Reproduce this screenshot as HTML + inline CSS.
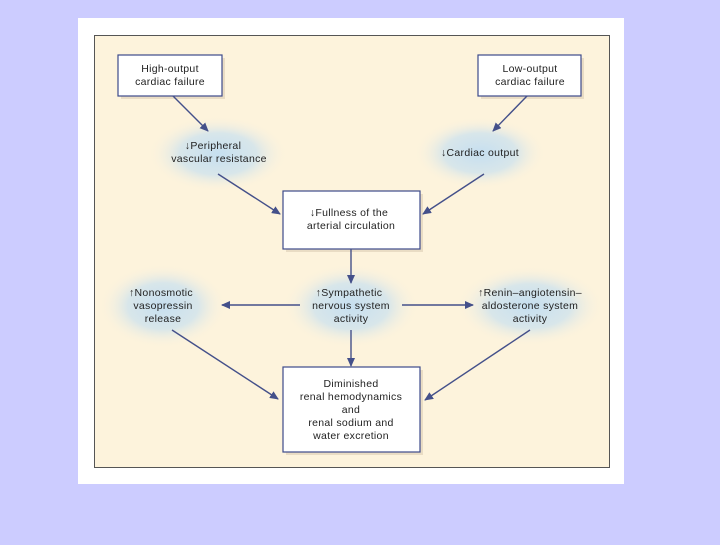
<!DOCTYPE html>
<html><head><style>
body{margin:0;background:#ccccff;width:720px;height:540px;overflow:hidden}
text{font-family:"Liberation Sans",sans-serif;font-size:10.5px;letter-spacing:0.3px;fill:#222;text-anchor:middle}
.b{font-weight:bold}
</style></head><body>
<svg width="720" height="540" xmlns="http://www.w3.org/2000/svg">
<defs>
<radialGradient id="g"><stop offset="0" stop-color="#c6dff0"/><stop offset="0.55" stop-color="#d8e6ea"/><stop offset="1" stop-color="#fdf3dc" stop-opacity="0"/></radialGradient>
<marker id="a" markerWidth="9" markerHeight="8" refX="8" refY="4" orient="auto" markerUnits="userSpaceOnUse"><path d="M0,0 L9,4 L0,8 z" fill="#44508a"/></marker>
</defs>
<rect x="78" y="18" width="546" height="466" fill="#fff"/>
<rect x="94.5" y="35.5" width="515" height="432" fill="#fdf3dc" stroke="#555" stroke-width="1"/>
<ellipse cx="218" cy="154" rx="70" ry="38" fill="url(#g)"/>
<ellipse cx="480" cy="153" rx="66" ry="36" fill="url(#g)"/>
<ellipse cx="163" cy="306" rx="64" ry="42" fill="url(#g)"/>
<ellipse cx="351" cy="306" rx="68" ry="42" fill="url(#g)"/>
<ellipse cx="530" cy="306" rx="74" ry="40" fill="url(#g)"/>
<g fill="#e9dcc4"><rect x="121" y="58" width="104" height="41"/><rect x="481" y="58" width="103" height="41"/><rect x="286" y="194" width="137" height="58"/><rect x="286" y="370" width="137" height="85"/></g>
<g fill="#fff" stroke="#3d4a8a" stroke-width="1.2"><rect x="118" y="55" width="104" height="41"/><rect x="478" y="55" width="103" height="41"/><rect x="283" y="191" width="137" height="58"/><rect x="283" y="367" width="137" height="85"/></g>
<g stroke="#44508a" stroke-width="1.4" fill="none" marker-end="url(#a)">
<line x1="173" y1="96" x2="208" y2="131"/><line x1="218" y1="174" x2="280" y2="214"/>
<line x1="527" y1="96" x2="493" y2="131"/><line x1="484" y1="174" x2="423" y2="214"/>
<line x1="351" y1="249" x2="351" y2="283"/><line x1="300" y1="305" x2="222" y2="305"/>
<line x1="402" y1="305" x2="473" y2="305"/><line x1="351" y1="330" x2="351" y2="366"/>
<line x1="172" y1="330" x2="278" y2="399"/><line x1="530" y1="330" x2="425" y2="400"/>
</g>
<text x="170" y="72">High-output</text><text x="170" y="85">cardiac failure</text>
<text x="530" y="72">Low-output</text><text x="530" y="85">cardiac failure</text>
<text x="213" y="149"><tspan class="b">↓</tspan>Peripheral</text><text x="219" y="162">vascular resistance</text>
<text x="480" y="156"><tspan class="b">↓</tspan>Cardiac output</text>
<text x="349" y="216"><tspan class="b">↓</tspan>Fullness of the</text><text x="351" y="229">arterial circulation</text>
<text x="161" y="296"><tspan class="b">↑</tspan>Nonosmotic</text><text x="163" y="309">vasopressin</text><text x="163" y="322">release</text>
<text x="349" y="296"><tspan class="b">↑</tspan>Sympathetic</text><text x="351" y="309">nervous system</text><text x="351" y="322">activity</text>
<text x="530" y="296"><tspan class="b">↑</tspan>Renin–angiotensin–</text><text x="530" y="309">aldosterone system</text><text x="530" y="322">activity</text>
<text x="351" y="387">Diminished</text><text x="351" y="400">renal hemodynamics</text><text x="351" y="413">and</text><text x="351" y="426">renal sodium and</text><text x="351" y="439">water excretion</text>
</svg>
</body></html>
